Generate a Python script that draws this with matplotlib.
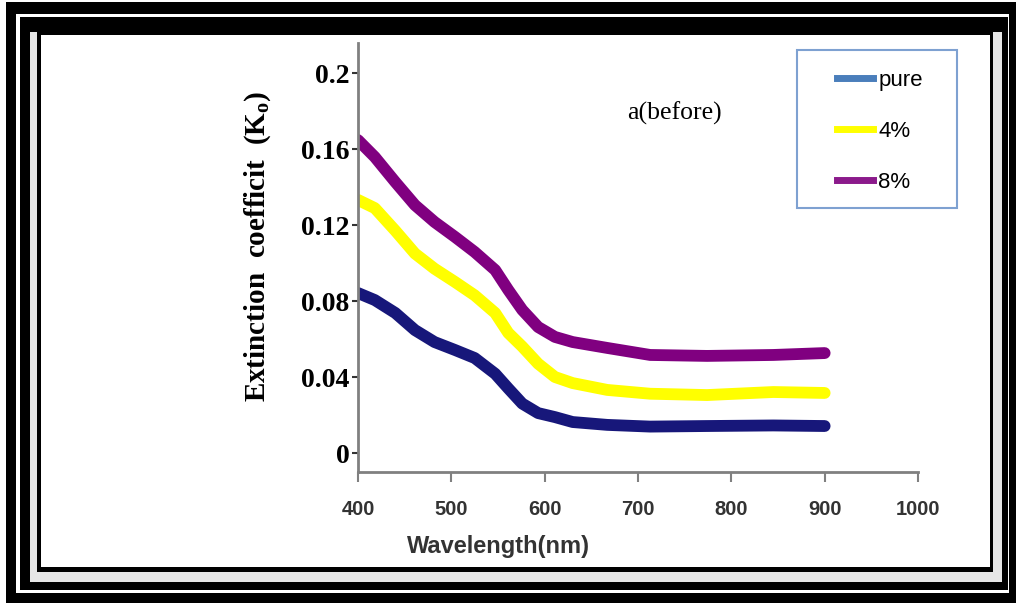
import matplotlib

matplotlib.use("Agg")
import matplotlib.pyplot as plt
from matplotlib.lines import Line2D
from matplotlib.patches import Rectangle

# Extinction coefficient vs wavelength, before annealing
wavelength = [400, 418, 440, 461, 482, 504, 525, 547, 561, 576, 593, 611, 630, 667, 713, 774, 845, 900]
k_pure = [0.0842, 0.0805, 0.0737, 0.0647, 0.0584, 0.0542, 0.0500, 0.0417, 0.0340, 0.0260,
          0.0210, 0.0189, 0.0163, 0.0148, 0.0139, 0.0142, 0.0145, 0.0142]
k_4pct = [0.1332, 0.1289, 0.1170, 0.1050, 0.0970, 0.0900, 0.0830, 0.0737, 0.0632, 0.0560,
          0.0470, 0.0400, 0.0368, 0.0332, 0.0312, 0.0305, 0.0321, 0.0316]
k_8pct = [0.1647, 0.1558, 0.1426, 0.1305, 0.1216, 0.1137, 0.1058, 0.0963, 0.0858, 0.0753,
          0.0663, 0.0611, 0.0584, 0.0553, 0.0516, 0.0511, 0.0516, 0.0526]

series_labels = ["pure", "4%", "8%"]
x_ticks = [400, 500, 600, 700, 800, 900, 1000]
y_ticks = [0, 0.04, 0.08, 0.12, 0.16, 0.2]
y_tick_labels = ["0", "0.04", "0.08", "0.12", "0.16", "0.2"]

W, H = 1016, 603
fig = plt.figure(figsize=(W / 100, H / 100), dpi=100)


def px_rect(x0, y0, x1, y1, color):
    # rectangle given in pixel coordinates measured from the top-left corner
    fig.patches.append(Rectangle((x0 / W, 1 - y1 / H), (x1 - x0) / W, (y1 - y0) / H,
                                 transform=fig.transFigure, facecolor=color,
                                 edgecolor="none", zorder=-10))


# nested picture frame
px_rect(6, 2, 1016, 603, "black")
px_rect(16, 14, 1009, 593, "white")
px_rect(20, 17, 1008, 590, "black")
px_rect(30, 32, 1002, 582, "#e6e6e6")
px_rect(37, 32, 993, 572, "black")
px_rect(41, 35, 990, 567, "white")

ax = fig.add_axes([358 / W, 1 - 472 / H, 560 / W, 429 / H])
ax.set_facecolor("none")

colors = ["#17177a", "#ffff00", "#800080"]
for k, c in zip([k_pure, k_4pct, k_8pct], colors):
    ax.plot(wavelength, k, color=c, lw=8.5, solid_capstyle="round", solid_joinstyle="round")

ax.set_xlim(400, 1000)
ax.set_ylim(-0.0100, 0.2158)
ax.set_xticks(x_ticks)
ax.set_yticks(y_ticks)
ax.set_yticklabels(y_tick_labels)

for side in ["top", "right"]:
    ax.spines[side].set_visible(False)
for side in ["left", "bottom"]:
    ax.spines[side].set_color("#808080")
    ax.spines[side].set_linewidth(2)

ax.tick_params(axis="x", direction="out", length=7, width=1.5, color="#808080", pad=13,
               labelsize=14.5, labelcolor="#333333")
ax.tick_params(axis="y", direction="out", length=4, width=1.5, color="#333333", pad=2,
               labelsize=20)
for t in ax.get_xticklabels():
    t.set_fontfamily("Liberation Sans")
    t.set_fontweight("bold")
for t in ax.get_yticklabels():
    t.set_fontfamily("Liberation Serif")
    t.set_fontweight("bold")

fig.text(258 / W, 1 - 246 / H, "Extinction  coefficit  (K$_\\mathregular{o}$)", rotation=90,
         ha="center", va="center", family="Liberation Serif", fontweight="bold", fontsize=21)
fig.text(498 / W, 1 - 547 / H, "Wavelength(nm)", ha="center", va="center",
         family="Liberation Sans", fontweight="bold", fontsize=17, color="#333333")
fig.text(674 / W, 1 - 113 / H, "a(before)", ha="center", va="center",
         family="Liberation Serif", fontsize=18.5)

# legend box drawn separately so the padding can be wider than tall
fig.patches.append(Rectangle((797 / W, 1 - 208 / H), 160 / W, 158 / H, transform=fig.transFigure,
                             facecolor="white", edgecolor="#7ea1d1", lw=1.5, zorder=1))
handles = [Line2D([], [], color=c, lw=5) for c in ["#4a7ebb", "#ffff00", "#8b1a8b"]]
leg = fig.legend(handles, series_labels, loc="upper left", bbox_to_anchor=(817 / W, 1 - 50 / H),
                 frameon=False, handlelength=1.6, handletextpad=0.25, labelspacing=1.35,
                 prop={"family": "Liberation Sans", "size": 16})
leg.set_zorder(2)

fig.savefig("out.png", dpi=100)
